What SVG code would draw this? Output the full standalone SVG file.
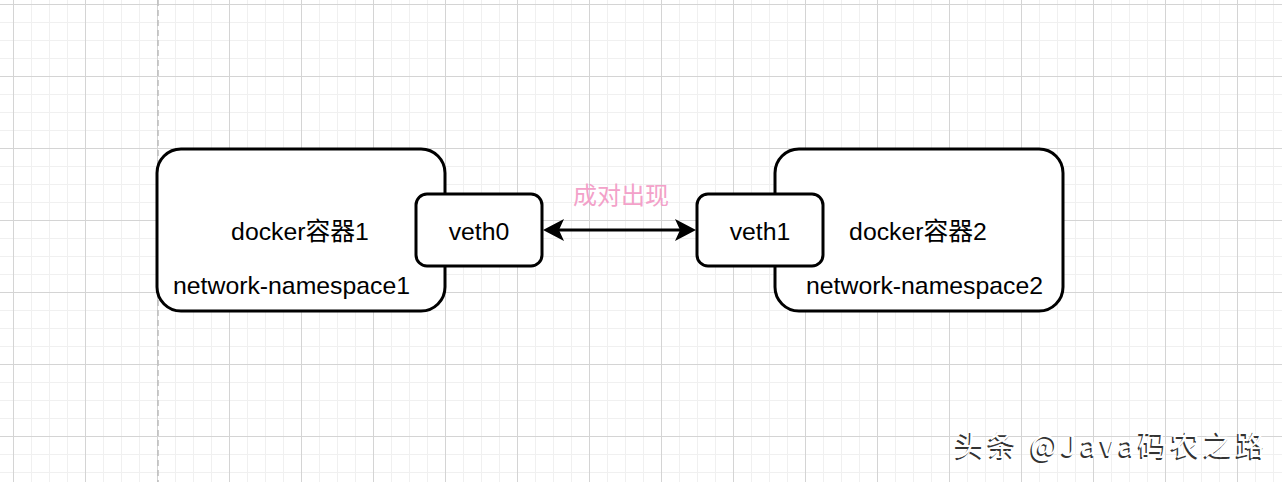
<svg xmlns="http://www.w3.org/2000/svg" width="1282" height="482" viewBox="0 0 1282 482">
<style>
.box{fill:#fff;stroke:#000;stroke-width:3}
.t{font-family:"Liberation Sans","Noto Sans CJK SC",sans-serif;font-size:24.8px;fill:#000}
.c{text-anchor:middle}
.pink{font-family:"Liberation Sans","Noto Sans CJK SC",sans-serif;font-size:24px;fill:#F3A1C9;text-anchor:middle}
.wm{font-family:"Noto Sans CJK SC","Liberation Sans",sans-serif;font-size:29px}
</style>
<defs>
<pattern id="grid" patternUnits="userSpaceOnUse" x="13" y="4" width="72" height="72">
<rect x="18" y="0" width="1" height="72" fill="#f0f0f0"/>
<rect x="36" y="0" width="1" height="72" fill="#f0f0f0"/>
<rect x="54" y="0" width="1" height="72" fill="#f0f0f0"/>
<rect x="0" y="18" width="72" height="1" fill="#f0f0f0"/>
<rect x="0" y="36" width="72" height="1" fill="#f0f0f0"/>
<rect x="0" y="54" width="72" height="1" fill="#f0f0f0"/>
<rect x="0" y="0" width="1" height="72" fill="#d4d4d4"/>
<rect x="0" y="0" width="72" height="1" fill="#d4d4d4"/>
</pattern>
<marker id="arr" markerUnits="userSpaceOnUse" markerWidth="22" markerHeight="24" viewBox="0 0 22 24" refX="15" refY="12" orient="auto-start-reverse">
<path d="M0,1 L21,12 L0,23 L5,12 Z" fill="#000"/>
</marker>
</defs>
<rect width="1282" height="482" fill="#fff"/>
<rect width="1282" height="482" fill="url(#grid)"/>
<line x1="158" y1="0" x2="158" y2="482" stroke="#bdbdbd" stroke-width="1.5" stroke-dasharray="6,4"/>

<g id="container1">
<rect class="box" x="157" y="149" width="288" height="162" rx="24" ry="24"/>
<text class="t c" x="300" y="240">docker容器1</text>
<text class="t" x="173" y="294">network-namespace1</text>
</g>
<g id="container2">
<rect class="box" x="775" y="149" width="288" height="162" rx="24" ry="24"/>
<text class="t c" x="918" y="240">docker容器2</text>
<text class="t" x="806" y="294">network-namespace2</text>
</g>
<g id="veth0">
<rect class="box" x="416" y="194" width="126" height="72" rx="11" ry="11"/>
<text class="t c" x="479" y="240">veth0</text>
</g>
<g id="veth1">
<rect class="box" x="697" y="194" width="126" height="72" rx="11" ry="11"/>
<text class="t c" x="760" y="240">veth1</text>
</g>
<g id="connectors">
<line x1="549" y1="230" x2="690" y2="230" stroke="#000" stroke-width="3" marker-start="url(#arr)" marker-end="url(#arr)"/>
<text class="pink" x="621" y="204">成对出现</text>
</g>
<g id="watermark">
<text class="wm" x="953.5" y="457.5" fill="#333" textLength="310" lengthAdjust="spacing">头条 @Java码农之路</text>
<text class="wm" x="955" y="456" fill="#fff" textLength="310" lengthAdjust="spacing">头条 @Java码农之路</text>
</g>
</svg>
